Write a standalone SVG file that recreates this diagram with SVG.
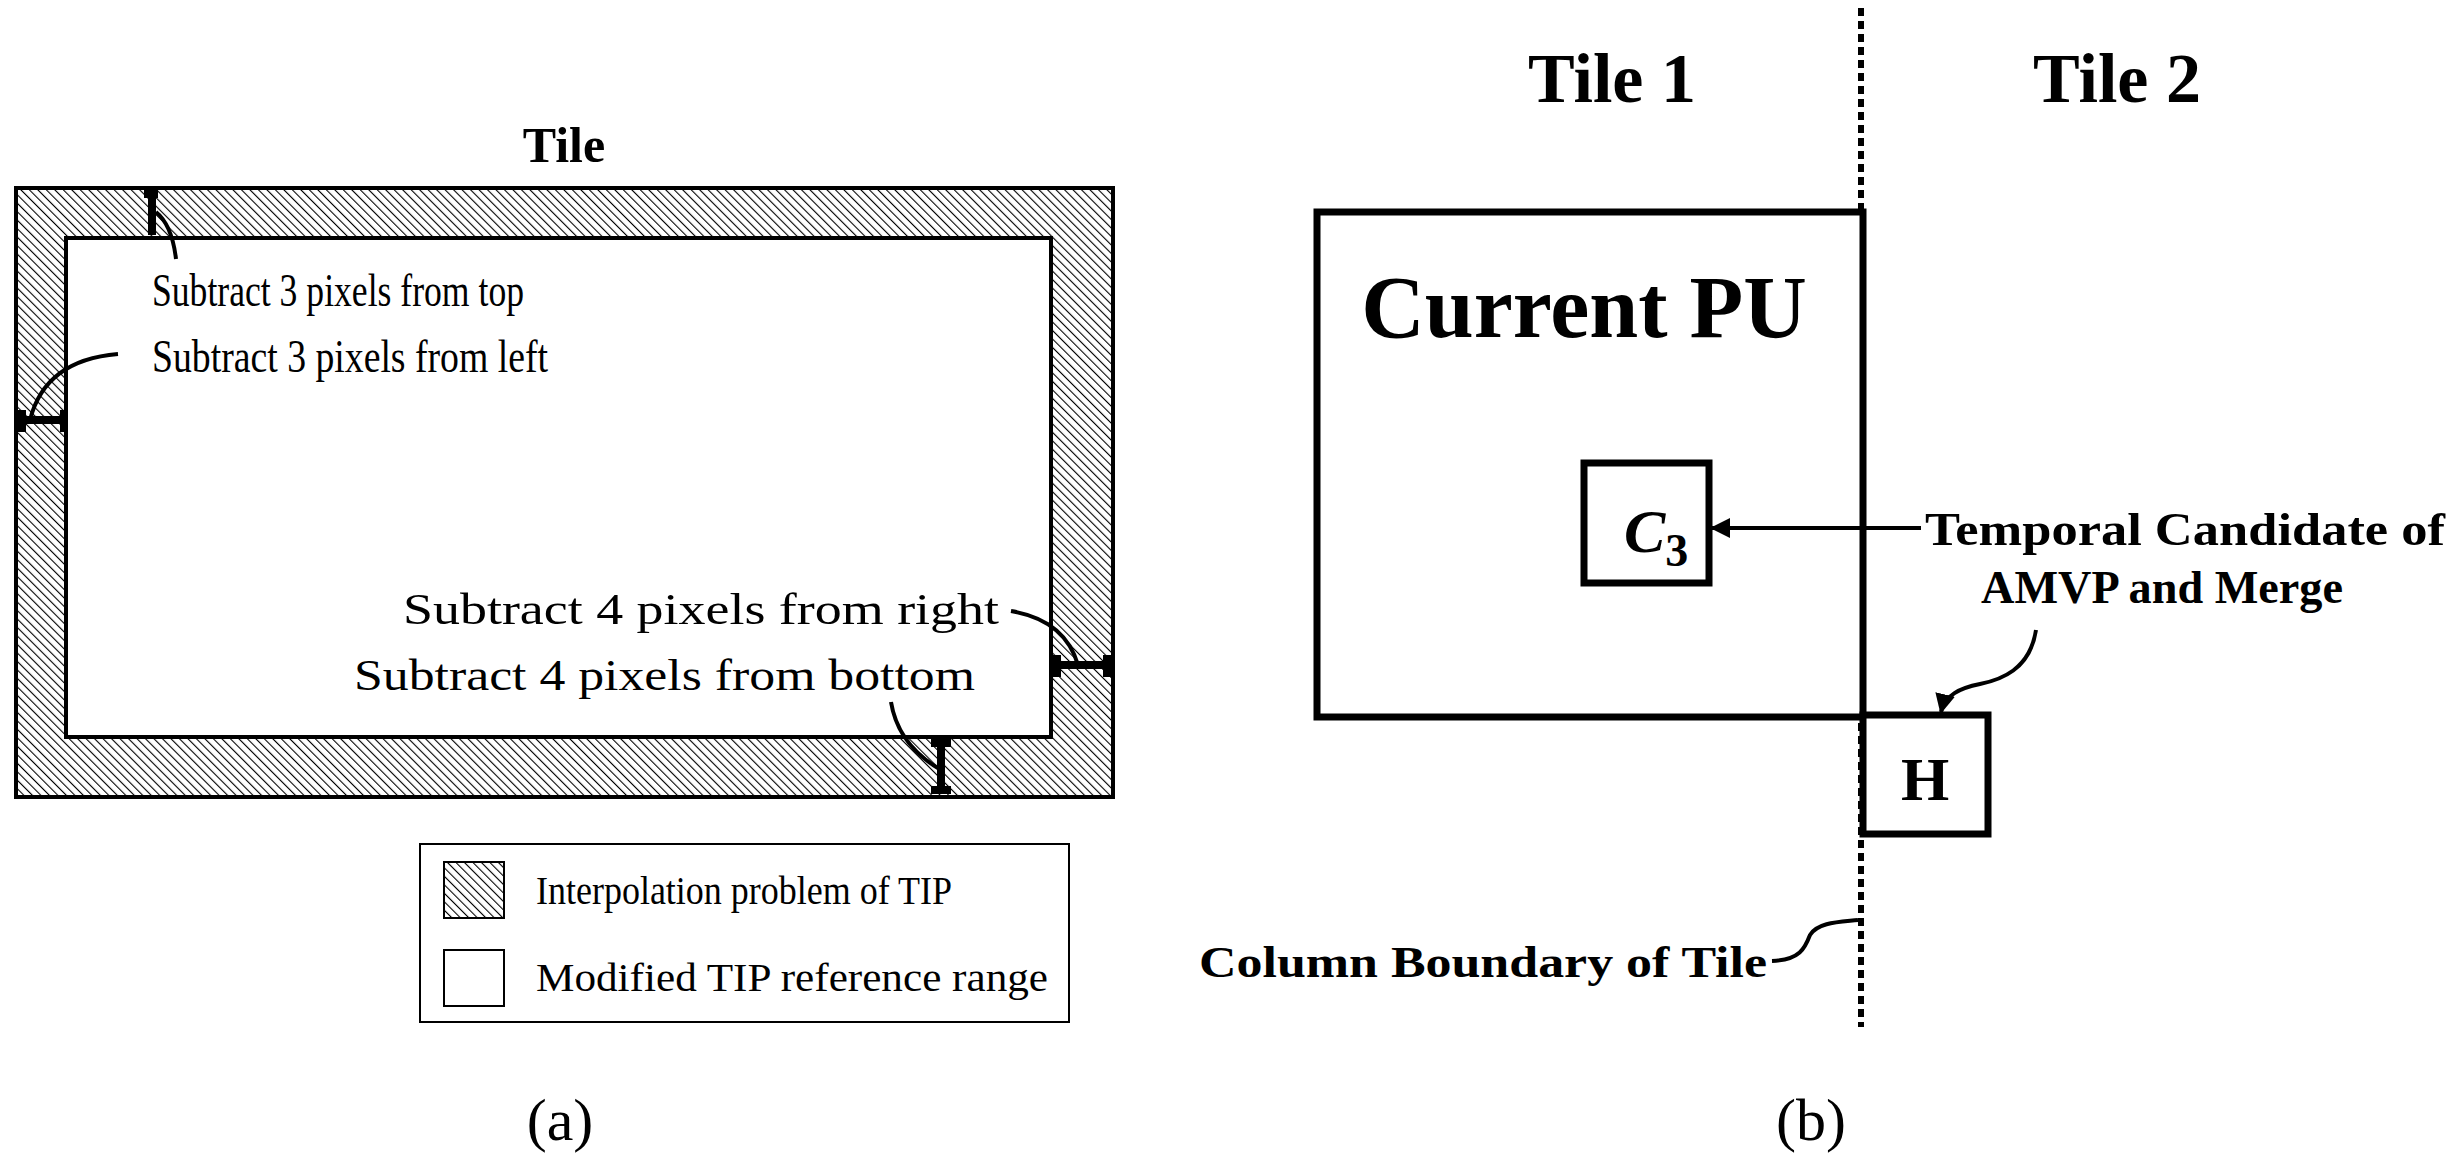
<svg xmlns="http://www.w3.org/2000/svg" width="2458" height="1165" viewBox="0 0 2458 1165">
<style>
.s{font-family:"Liberation Serif",serif;fill:#000}
.b{font-family:"Liberation Serif",serif;font-weight:bold;fill:#000}
.ln{fill:none;stroke:#000;stroke-width:4}
.bar{fill:none;stroke:#000;stroke-width:8}
.box{fill:#fff;stroke:#000;stroke-width:7}
</style>
<defs>
<pattern id="hatch" width="6" height="6" patternUnits="userSpaceOnUse" patternTransform="rotate(-45)">
<rect width="6" height="6" fill="#fff"/>
<line x1="0" y1="0" x2="0" y2="6" stroke="#000" stroke-width="2.2"/>
</pattern>
<marker id="ah" viewBox="0 0 10 10" refX="9" refY="5" markerWidth="5" markerHeight="5" orient="auto" markerUnits="strokeWidth"><path d="M0,0L10,5L0,10z" fill="#000"/></marker>
</defs>
<rect width="2458" height="1165" fill="#fff"/>
<g id="panel-a">
<text class="b" x="564" y="162" font-size="50" text-anchor="middle">Tile</text>
<rect id="tile-outer" x="16" y="188" width="1097" height="609" fill="url(#hatch)" stroke="#000" stroke-width="4"/>
<rect id="tile-inner" x="66" y="238" width="985" height="499" fill="#fff" stroke="#000" stroke-width="4"/>
<text class="s" x="152" y="306" font-size="46" textLength="372" lengthAdjust="spacingAndGlyphs">Subtract 3 pixels from top</text>
<text class="s" x="152" y="372" font-size="46" textLength="396" lengthAdjust="spacingAndGlyphs">Subtract 3 pixels from left</text>
<text class="s" x="403" y="624" font-size="44" textLength="596" lengthAdjust="spacingAndGlyphs">Subtract 4 pixels from right</text>
<text class="s" x="354" y="690" font-size="44" textLength="621" lengthAdjust="spacingAndGlyphs">Subtract 4 pixels from bottom</text>
</g>
<g id="markers">
<path class="bar" d="M152,191V235M144,194H158"/>
<path class="ln" d="M156,212Q172,225 176,259"/>
<path class="bar" d="M19,420H66M22,410V432M64,410V432"/>
<path class="ln" d="M30,420Q45,360 118,354"/>
<path class="bar" d="M1054,665H1110M1057,655V677M1107,655V677"/>
<path class="ln" d="M1011,611Q1065,620 1078,665"/>
<path class="bar" d="M941,740V793M931,743H951M931,790H951"/>
<path class="ln" d="M891,702Q898,745 941,770"/>
</g>
<g id="legend">
<rect x="420" y="844" width="649" height="178" fill="#fff" stroke="#000" stroke-width="2"/>
<rect x="444" y="862" width="60" height="56" fill="url(#hatch)" stroke="#000" stroke-width="2"/>
<rect x="444" y="950" width="60" height="56" fill="#fff" stroke="#000" stroke-width="2"/>
<text class="s" x="536" y="904" font-size="40" textLength="416" lengthAdjust="spacingAndGlyphs">Interpolation problem of TIP</text>
<text class="s" x="536" y="991" font-size="40" textLength="512" lengthAdjust="spacingAndGlyphs">Modified TIP reference range</text>
</g>
<text class="s" x="560" y="1140" font-size="60" text-anchor="middle">(a)</text>
<g id="panel-b">
<line id="boundary" x1="1861" y1="8" x2="1861" y2="1027" stroke="#000" stroke-width="6" stroke-dasharray="8,5"/>
<text class="b" x="1612" y="102" font-size="70" text-anchor="middle">Tile 1</text>
<text class="b" x="2117" y="102" font-size="70" text-anchor="middle">Tile 2</text>
<g id="current-pu"><rect class="box" x="1317" y="212" width="546" height="505" fill="none"/>
<text class="b" x="1584" y="337" font-size="88" text-anchor="middle">Current PU</text></g>
<g id="c3"><rect class="box" x="1584" y="463" width="125" height="120"/>
<text class="b" x="1624" y="552" font-size="62" font-style="italic">C<tspan font-size="46" dy="14" font-style="normal">3</tspan></text></g>
<g id="h"><rect class="box" x="1863" y="715" width="125" height="119"/>
<text class="b" x="1925" y="800" font-size="62" text-anchor="middle">H</text></g>
<text class="b" x="1925" y="545" font-size="46" textLength="520" lengthAdjust="spacingAndGlyphs">Temporal Candidate of</text>
<text class="b" x="1981" y="603" font-size="46" textLength="362" lengthAdjust="spacingAndGlyphs">AMVP and Merge</text>
<text class="b" x="1199" y="977" font-size="44" textLength="568" lengthAdjust="spacingAndGlyphs">Column Boundary of Tile</text>
</g>
<g id="connectors">
<line class="ln" x1="1921" y1="528" x2="1712" y2="528" marker-end="url(#ah)"/>
<path class="ln" d="M2036,630C2030,670 2000,680 1980,684C1960,688 1945,695 1941,712" marker-end="url(#ah)"/>
<path class="ln" d="M1772,961C1800,960 1805,948 1810,935C1818,922 1840,922 1858,920"/>
</g>
<text class="s" x="1811" y="1140" font-size="60" text-anchor="middle">(b)</text>
</svg>
